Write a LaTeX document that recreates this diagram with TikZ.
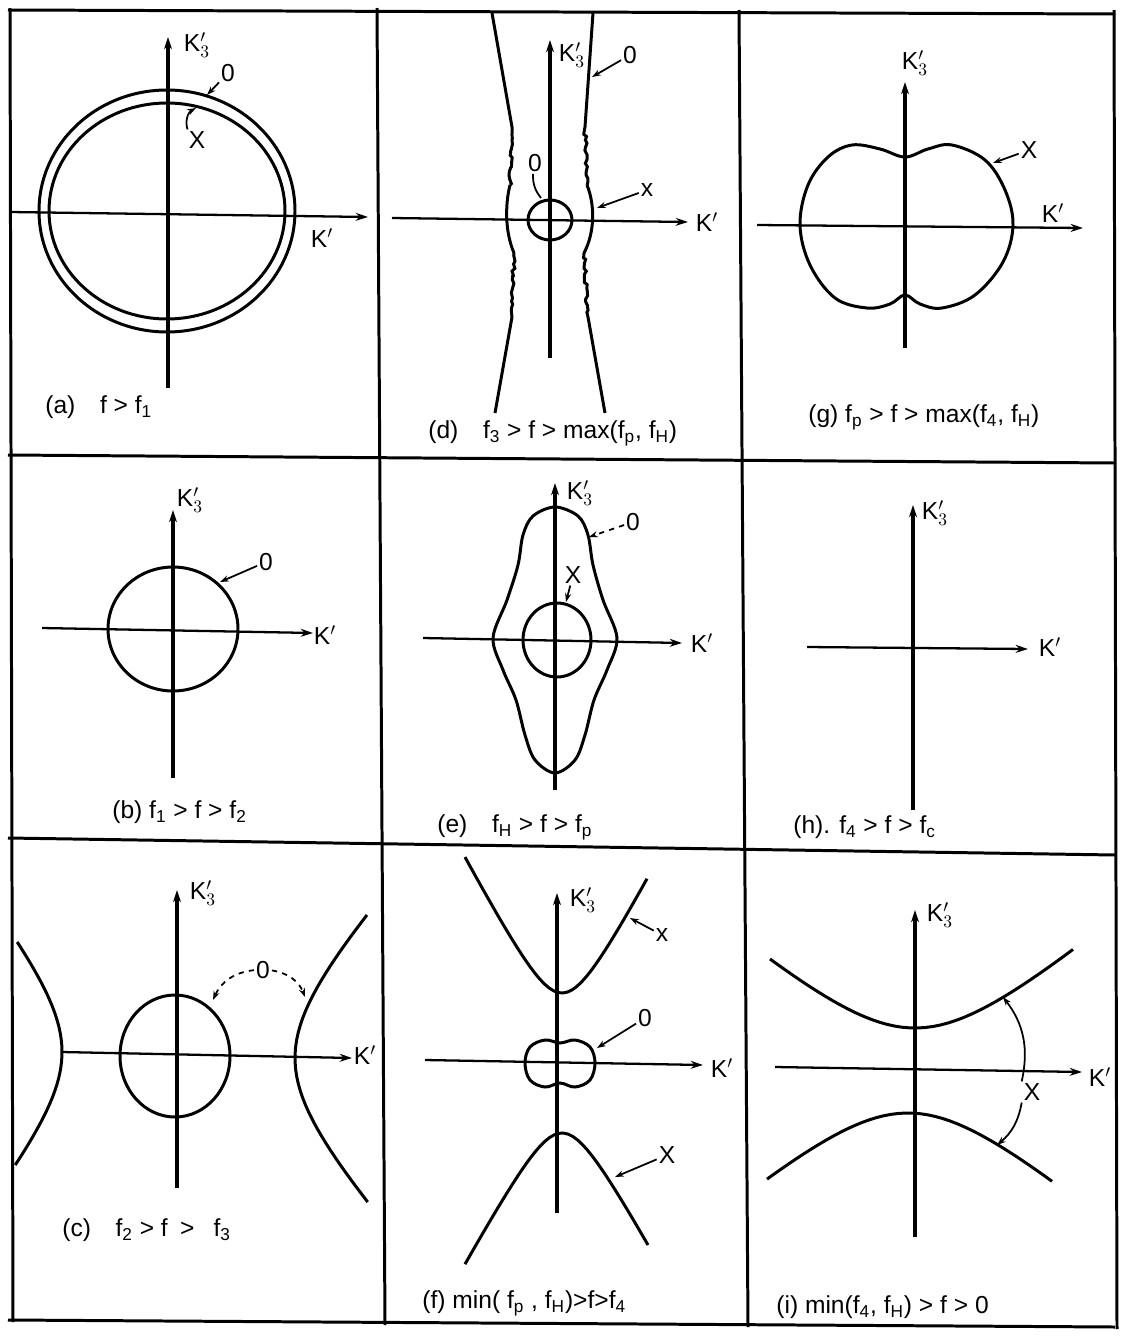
\documentclass[tikz,border=0pt]{standalone}
\usepackage{fontspec}
\setmainfont{Liberation Sans}
\usetikzlibrary{arrows.meta,decorations.pathmorphing}

\tikzset{
  grade/.style={line width=1.7pt},
  eixo/.style={line width=1.3pt,-{Stealth[length=7pt,width=4.5pt]}},
  eixov/.style={eixo,line width=2.2pt},
  curva/.style={line width=1.7pt},
  seta/.style={line width=1pt,-{Stealth[length=5pt,width=3.5pt]}},
  rot/.style={font=\fontsize{14}{16}\selectfont,inner sep=1pt},
  leg/.style={font=\fontsize{14}{16}\selectfont,anchor=west,inner sep=0pt},
  ondas/.style={decorate,decoration={random steps,segment length=2pt,amplitude=0.9pt}},
}

\begin{document}
\begin{tikzpicture}[x=0.02cm,y=-0.02cm]
\useasboundingbox (0,0) rectangle (1120,1339);

% grade
\draw[grade] (8,10) -- (1115,14);
\draw[grade] (8,455) -- (1115,463);
\draw[grade] (8,838) -- (1115,855);
\draw[grade] (8,1320) -- (1115,1327);
\draw[grade] (10,8) -- (13,1322);
\draw[grade] (377,8) -- (385,1325);
\draw[grade] (739,10) -- (748,1327);
\draw[grade] (1114,10) -- (1117,1329);

% painel (a)
\draw[eixo] (10,212) -- (368,217);
\draw[eixov] (168,388) -- (168,37);
\node[rot] (ka3) at (197,45) {K$'_3$};
\node[rot] (ka) at (322,238) {K$'$};
\draw[curva] (167,211) ellipse [x radius=128,y radius=121];
\draw[curva] (167,211) ellipse [x radius=118,y radius=108];
\node[rot] (a0) at (228,73) {0};
\coordinate (a0c) at (207,95);
\draw[seta] (a0) -- (a0c);
\node[rot] (ax) at (197,140) {X};
\coordinate (axc) at (196,108);
\draw[seta] (ax) to[bend left=40] (axc);
\node[leg] (lega) at (45,407) {(a)\quad f > f\textsubscript{1}};

% painel (d)
\draw[eixo] (392,218) -- (688,222);
\draw[eixov] (550,358) -- (550,40);
\node[rot] (kd3) at (572,55) {K$'_3$};
\node[rot] (kd) at (707,222) {K$'$};
\draw[curva] (492,13) -- (512,127);
\draw[curva,ondas] (512,127) -- (510,185);
\draw[curva] (510,185) .. controls (505,205) and (505,232) .. (514,253);
\draw[curva,ondas] (514,253) -- (512,317);
\draw[curva] (512,317) -- (495,413);
\draw[curva] (593,13) -- (585,127);
\draw[curva,ondas] (585,127) -- (587,185);
\draw[curva] (587,185) .. controls (595,205) and (595,232) .. (584,253);
\draw[curva,ondas] (584,253) -- (588,317);
\draw[curva] (588,317) -- (605,413);
\draw[curva] (550,220) ellipse [x radius=22,y radius=20];
\node[rot] (d0) at (630,55) {0};
\coordinate (d0c) at (592,77);
\draw[seta] (d0) -- (d0c);
\node[rot] (d0i) at (535,163) {0};
\coordinate (d0ic) at (541,198);
\draw[line width=1pt] (d0i) to[bend right=20] (d0ic);
\node[rot] (dx) at (647,190) {x};
\coordinate (dxc) at (597,208);
\draw[seta] (dx) -- (dxc);
\node[leg] (legd) at (428,433) {(d)\quad f\textsubscript{3} > f > max(f\textsubscript{p}, f\textsubscript{H})};

% painel (g)
\draw[eixo] (757,225) -- (1083,228);
\draw[eixov] (905,348) -- (905,82);
\node[rot] (kg3) at (915,63) {K$'_3$};
\node[rot] (kg) at (1053,213) {K$'$};
\draw[curva] plot[smooth cycle,tension=0.6] coordinates {
  (905,157) (928,149) (952,145) (985,160) (1005,190) (1013,225) (1003,262)
  (975,295) (942,308) (920,304) (905,295) (890,304) (867,308) (835,298)
  (810,265) (800,225) (808,185) (828,157) (852,145) (880,149)};
\node[rot] (gx) at (1029,150) {X};
\coordinate (gxc) at (993,163);
\draw[seta] (gx) -- (gxc);
\node[leg] (legg) at (808,417) {(g) f\textsubscript{p} > f > max(f\textsubscript{4}, f\textsubscript{H})};

% painel (b)
\draw[eixo] (42,628) -- (313,633);
\draw[eixov] (173,778) -- (173,510);
\node[rot] (kb3) at (190,500) {K$'_3$};
\node[rot] (kb) at (325,635) {K$'$};
\draw[curva] (173,629) ellipse [x radius=65,y radius=62];
\node[rot] (b0) at (266,562) {0};
\coordinate (b0c) at (220,582);
\draw[seta] (b0) -- (b0c);
\node[leg] (legb) at (112,812) {(b) f\textsubscript{1} > f > f\textsubscript{2}};

% painel (e)
\draw[eixo] (423,638) -- (682,643);
\draw[eixov] (555,790) -- (555,483);
\node[rot] (ke3) at (580,493) {K$'_3$};
\node[rot] (ke) at (702,643) {K$'$};
\draw[curva] plot[smooth cycle,tension=0.55] coordinates {
  (555,507) (578,516) (588,535) (593,565) (603,600) (617,638) (607,670)
  (594,700) (585,735) (575,760) (555,773) (535,760) (525,735) (516,700)
  (503,670) (493,638) (507,600) (518,565) (523,535) (533,516)};
\draw[curva] (557,640) ellipse [x radius=34,y radius=37];
\node[rot] (e0) at (633,522) {0};
\coordinate (e0c) at (589,537);
\draw[seta,dashed] (e0) -- (e0c);
\node[rot] (ex) at (573,575) {X};
\coordinate (exc) at (566,602);
\draw[seta] (ex) -- (exc);
\node[leg] (lege) at (437,827) {(e)\quad f\textsubscript{H} > f > f\textsubscript{p}};

% painel (h)
\draw[eixo] (807,647) -- (1028,649);
\draw[eixov] (913,810) -- (913,505);
\node[rot] (kh3) at (935,513) {K$'_3$};
\node[rot] (kh) at (1050,647) {K$'$};
\node[leg] (legh) at (793,827) {(h). f\textsubscript{4} > f > f\textsubscript{c}};

% painel (c)
\draw[eixo] (62,1052) -- (352,1058);
\draw[eixov] (177,1188) -- (177,890);
\node[rot] (kc3) at (203,893) {K$'_3$};
\node[rot] (kc) at (365,1055) {K$'$};
\draw[curva] (175,1056) ellipse [x radius=55,y radius=61];
\draw[curva] plot[domain=-110:113,samples=40] ({62-64*(sqrt(1+(\x/80)^2)-1)},{1052+\x});
\draw[curva] plot[domain=-143:144,samples=40] ({295+82*(sqrt(1+(\x/90)^2)-1)},{1058+\x});
\node[rot] (c0) at (263,970) {0};
\coordinate (c0e) at (213,1000);
\coordinate (c0d) at (305,997);
\draw[seta,dashed] (c0) to[bend right=30] (c0e);
\draw[seta,dashed] (c0) to[bend left=30] (c0d);
\node[leg] (legc) at (62,1230) {(c)\quad f\textsubscript{2} > f\enspace > \enspace f\textsubscript{3}};

% painel (f)
\draw[eixo] (425,1060) -- (703,1065);
\draw[eixov] (557,1213) -- (557,893);
\node[rot] (kf3) at (583,900) {K$'_3$};
\node[rot] (kf) at (722,1068) {K$'$};
\draw[curva] plot[domain=-97:85,samples=40] ({562+\x},{993-57*(sqrt(1+(\x/30)^2)-1)});
\draw[curva] plot[domain=-97:86,samples=40] ({562+\x},{1133+55*(sqrt(1+(\x/30)^2)-1)});
\draw[curva] plot[smooth cycle,tension=0.6] coordinates {
  (560,1043) (575,1040) (590,1047) (595,1063) (590,1080) (575,1087)
  (560,1083) (545,1087) (530,1080) (525,1063) (530,1047) (545,1040)};
\node[rot] (fx) at (662,935) {x};
\coordinate (fxc) at (630,918);
\draw[seta] (fx) -- (fxc);
\node[rot] (f0) at (645,1018) {0};
\coordinate (f0c) at (597,1048);
\draw[seta] (f0) -- (f0c);
\node[rot] (fX) at (667,1155) {X};
\coordinate (fXc) at (615,1177);
\draw[seta] (fX) -- (fXc);
\node[leg] (legf) at (422,1303) {(f) min( f\textsubscript{p} , f\textsubscript{H})>f>f\textsubscript{4}};

% painel (i)
\draw[eixo] (775,1067) -- (1082,1072);
\draw[eixov] (915,1237) -- (915,910);
\node[rot] (ki3) at (940,915) {K$'_3$};
\node[rot] (ki) at (1100,1077) {K$'$};
\draw[curva] plot[domain=-145:158,samples=40] ({915+\x},{1028-77*(sqrt(1+(\x/90)^2)-1)});
\draw[curva] plot[domain=-141:144,samples=40] ({908+\x},{1113+77*(sqrt(1+(\x/90)^2)-1)});
\node[rot] (ix) at (1032,1092) {X};
\coordinate (ixs) at (1003,997);
\coordinate (ixi) at (997,1145);
\draw[seta] (ix.north west) to[bend right=25] (ixs);
\draw[seta] (ix.south west) to[bend left=20] (ixi);
\node[leg] (legi) at (776,1307) {(i) min(f\textsubscript{4}, f\textsubscript{H}) > f > 0};

\end{tikzpicture}
\end{document}
